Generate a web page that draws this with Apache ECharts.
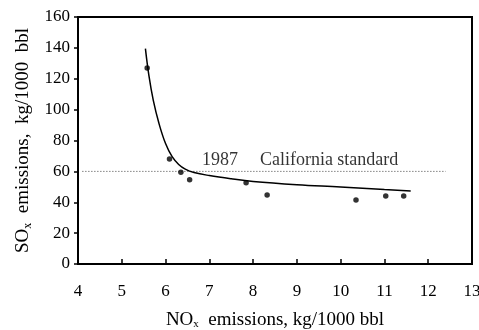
<!DOCTYPE html>
<html>
<head>
<meta charset="utf-8">
<script src="https://cdn.jsdelivr.net/npm/echarts@6/dist/echarts.min.js"></script>
<style>html,body{margin:0;padding:0;background:#fff;}#c{width:479px;height:330px;}</style>
</head>
<body>
<div id="c"></div>
<script>
// Observed data points (NOx, SOx)
const measuredPoints = [
  [5.58, 127], [6.09, 68], [6.35, 59.5], [6.55, 54.5], [7.84, 52.7],
  [8.32, 44.7], [10.35, 41.5], [11.03, 44], [11.44, 44]
];
// Fitted curve
const fittedCurve = [
  [5.54, 139.5], [5.62, 122], [5.72, 106], [5.85, 91], [6.0, 78],
  [6.15, 69.5], [6.3, 64.5], [6.45, 61.5], [6.65, 59.3], [7.0, 57.3],
  [7.5, 55.2], [8.0, 53.5], [9.0, 51.4], [10.0, 49.9], [11.0, 48.2], [11.6, 47.3]
];
// 1987 California standard line
const standardLine = [[4.1, 60], [12.4, 60]];
const annotationPoint = [[6.83, 67.5]];
const annotationYear = '1987';
const annotationText = 'California standard';
const xTicks = [4, 5, 6, 7, 8, 9, 10, 11, 12, 13];
const yTicks = [0, 20, 40, 60, 80, 100, 120, 140, 160];

const FONT = '"Liberation Serif", "DejaVu Serif", serif';
const chart = echarts.init(document.getElementById('c'));
chart.setOption({
  animation: false,
  backgroundColor: '#fff',
  grid: {
    left: 78, right: 7, top: 17, bottom: 66, containLabel: false, outerBoundsMode: 'none',
    show: true, borderColor: '#000', borderWidth: 2
  },
  xAxis: {
    type: 'value', min: xTicks[0], max: xTicks[xTicks.length - 1], interval: 1,
    axisLine: { lineStyle: { color: '#000', width: 2 } },
    axisTick: { inside: true, length: 5, lineStyle: { color: '#000', width: 1.5 } },
    splitLine: { show: false },
    axisLabel: { color: '#000', fontFamily: FONT, fontSize: 17, margin: 19 },
    name: 'NO{sub|x}  emissions, kg/1000 bbl',
    nameLocation: 'middle', nameGap: 46,
    nameTextStyle: {
      color: '#000', fontFamily: FONT, fontSize: 19,
      rich: { sub: { fontFamily: FONT, fontSize: 11, color: '#000', padding: [9, 0, 0, 0] } }
    }
  },
  yAxis: {
    type: 'value', min: yTicks[0], max: yTicks[yTicks.length - 1], interval: 20,
    axisLine: { show: true, lineStyle: { color: '#000', width: 2 } },
    axisTick: { show: true, inside: false, length: 4, lineStyle: { color: '#000', width: 1.5 } },
    splitLine: { show: false },
    axisLabel: { color: '#000', fontFamily: FONT, fontSize: 17, margin: 8 },
    name: 'SO{sub|x}  emissions,  kg/1000  bbl',
    nameLocation: 'middle', nameGap: 43, nameRotate: 90,
    nameTextStyle: {
      color: '#000', fontFamily: FONT, fontSize: 19,
      rich: { sub: { fontFamily: FONT, fontSize: 12, color: '#000', padding: [10, 0, 0, 0] } }
    }
  },
  series: [
    {
      type: 'line', data: standardLine, symbol: 'none',
      lineStyle: { color: '#444', width: 1, type: [1, 2] }, z: 1
    },
    {
      type: 'line', data: fittedCurve, symbol: 'none', smooth: 0.4,
      lineStyle: { color: '#000', width: 1.5 }, z: 2
    },
    {
      type: 'scatter', data: measuredPoints, symbol: 'circle', symbolSize: 5.5,
      itemStyle: { color: '#000' }, z: 3
    },
    {
      type: 'scatter', data: annotationPoint, symbolSize: 0, silent: true,
      label: {
        show: true, position: 'right', distance: 0,
        formatter: '{a|' + annotationYear + '}{b|' + annotationText + '}',
        rich: {
          a: { fontFamily: FONT, fontSize: 18, color: '#000' },
          b: { fontFamily: FONT, fontSize: 18, color: '#000', padding: [0, 0, 0, 22] }
        }
      }
    }
  ]
});
</script>
</body>
</html>
